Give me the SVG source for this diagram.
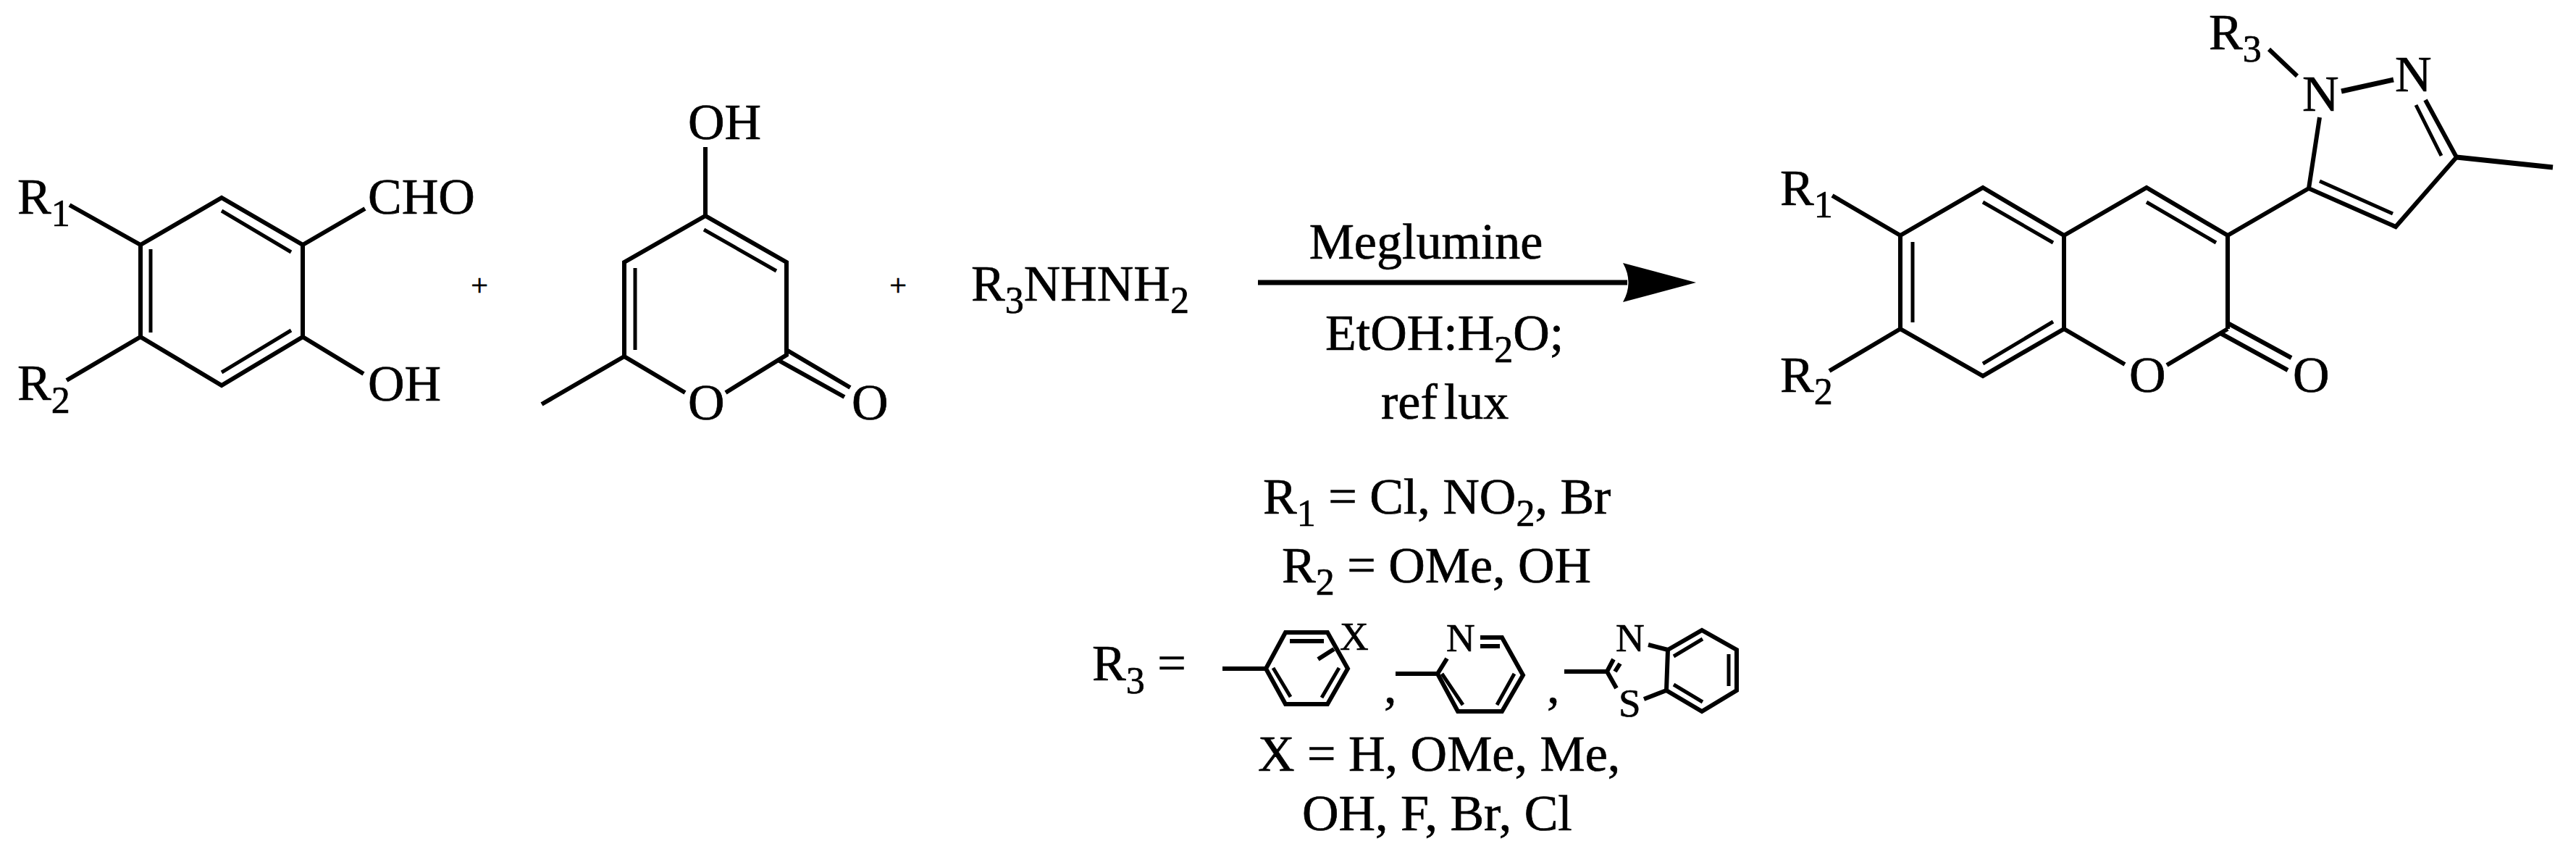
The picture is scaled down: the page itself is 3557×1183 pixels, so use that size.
<svg xmlns="http://www.w3.org/2000/svg" width="3557" height="1183" viewBox="0 0 3557 1183">
<style>
text{font-family:"Liberation Serif","Times New Roman",serif;font-size:70px;fill:#000;stroke:#000;stroke-width:.7}
.s{font-size:52px}
.m{font-size:55px}
.p{font-size:42px}
.b{fill:none;stroke:#000;stroke-width:6}
.i{fill:none;stroke:#000;stroke-width:5}
.t{fill:none;stroke:#000;stroke-width:7}
</style>
<defs>
<marker id="head" markerUnits="userSpaceOnUse" markerWidth="110" markerHeight="60" refX="6" refY="30" orient="auto" viewBox="0 0 110 60">
<path d="M101,30 L0,3 Q15,30 0,57 Z" fill="#000"/>
</marker>
</defs>
<rect width="3557" height="1183" fill="#fff"/>
<g id="salicylaldehyde">
<path class="b" d="M194,338 L306,273 L418,338 L418,465 L306,532 L194,465 Z"/>
<path class="i" d="M208,344 V459 M306,291 L402,348 M402,456 L306,514"/>
<path class="b" d="M96,283 L194,338 M418,338 L504,288 M418,465 L502,516 M194,465 L92,525"/>
<text x="24" y="295">R<tspan class="s" dy="17">1</tspan></text>
<text x="24" y="552">R<tspan class="s" dy="18">2</tspan></text>
<text x="508" y="295">CHO</text>
<text x="508" y="553">OH</text>
</g>
<text id="plus1" class="p" x="662" y="408" text-anchor="middle">+</text>
<g id="pyranone">
<path class="b" d="M946,542 L862,492 L862,362 L974,298 L1086,362 L1086,490 L1002,542"/>
<path class="i" d="M877,370 V483 M972,317 L1072,374"/>
<path class="b" d="M974,298 V203 M862,492 L748,558 M1086,483 L1174,535 M1076,498 L1166,548"/>
<text x="950" y="192">OH</text>
<text x="950" y="579">O</text>
<text x="1176" y="579">O</text>
</g>
<text id="plus2" class="p" x="1240" y="408" text-anchor="middle">+</text>
<g id="hydrazine">
<text x="1341" y="415">R<tspan class="s" dy="17">3</tspan><tspan dy="-17">NHNH</tspan><tspan class="s" dy="17">2</tspan></text>
</g>
<g id="connectors">
<path class="t" d="M1737,390 H2247" marker-end="url(#head)"/>
</g>
<g id="conditions">
<text x="1969" y="357" text-anchor="middle">Meglumine</text>
<text x="1830" y="483">EtOH:H<tspan class="s" dy="17">2</tspan><tspan dy="-17">O;</tspan></text>
<text x="1907" y="578">ref<tspan dx="9">lux</tspan></text>
</g>
<g id="legend">
<text x="1744" y="709">R<tspan class="s" dy="17">1</tspan><tspan dy="-17"> = Cl, NO</tspan><tspan class="s" dy="17">2</tspan><tspan dy="-17">, Br</tspan></text>
<text x="1770" y="804">R<tspan class="s" dy="17">2</tspan><tspan dy="-17"> = OMe, OH</tspan></text>
<text x="1508" y="939">R<tspan class="s" dy="18">3</tspan><tspan dy="-18"> =</tspan></text>
<text x="1737" y="1064">X = H, OMe, Me,</text>
<text x="1798" y="1146">OH, F, Br, Cl</text>
</g>
<g id="aryl">
<path class="b" d="M1688,923 H1748 L1775,873 H1833 L1861,923 L1833,972 H1775 L1748,923"/>
<path class="b" d="M1781,885 H1828 M1820,910 L1842,896"/>
<path class="i" d="M1758,922 L1782,962 M1849,922 L1825,963"/>
<text class="m" x="1850" y="897">X</text>
</g>
<text id="comma1" x="1911" y="970" font-size="60">,</text>
<g id="pyridyl">
<path class="b" d="M1927,930 H1985 L2013,982 H2074 L2103,932 L2074,880 H2044 M1985,930 L1998,909 M2044,892 H2071"/>
<path class="i" d="M1991,930 L2020,973 M2091,930 L2067,973"/>
<text class="m" x="1997" y="899">N</text>
</g>
<text id="comma2" x="2136" y="970" font-size="60">,</text>
<g id="benzothiazolyl">
<path class="b" d="M2160,927 H2219 L2228,910 M2219,927 L2232,950 M2230,927 L2237,916 M2270,965 L2301,953 M2276,890 L2303,897"/>
<path class="b" d="M2303,897 L2350,870 L2398,897 V953 L2350,982 L2301,953 Z"/>
<path class="i" d="M2311,906 L2351,882 M2387,903 V947 M2311,945 L2351,969"/>
<text class="m" x="2231" y="899">N</text>
<text class="m" x="2235" y="989">S</text>
</g>
<g id="product">
<path class="b" d="M2624,325 L2738,259 L2850,325 L2850,454 L2738,519 L2624,454 Z M2850,325 L2964,259 L3076,325 V454"/>
<path class="i" d="M2641,334 V445 M2738,279 L2835,335 M2835,444 L2738,502 M2964,279 L3060,335"/>
<path class="b" d="M2530,270 L2624,325 M2526,512 L2624,454 M2850,454 L2934,503 M2992,504 L3076,454 M3076,446 L3164,494 M3066,460 L3159,511 M3076,325 L3188,260 L3308,313 L3392,217 L3349,138 M3188,260 L3203,162 M3133,68 L3172,105"/>
<path class="i" d="M3203,250 L3304,295 M3336,145 L3371,215"/>
<path class="t" d="M3233,126 L3305,110 M3392,217 L3525,231"/>
<text x="2458" y="283">R<tspan class="s" dy="17">1</tspan></text>
<text x="2458" y="541">R<tspan class="s" dy="17">2</tspan></text>
<text x="3050" y="68">R<tspan class="s" dy="17">3</tspan></text>
<text x="3179" y="153">N</text>
<text x="3307" y="126">N</text>
<text x="2940" y="541">O</text>
<text x="3166" y="541">O</text>
</g>
</svg>
